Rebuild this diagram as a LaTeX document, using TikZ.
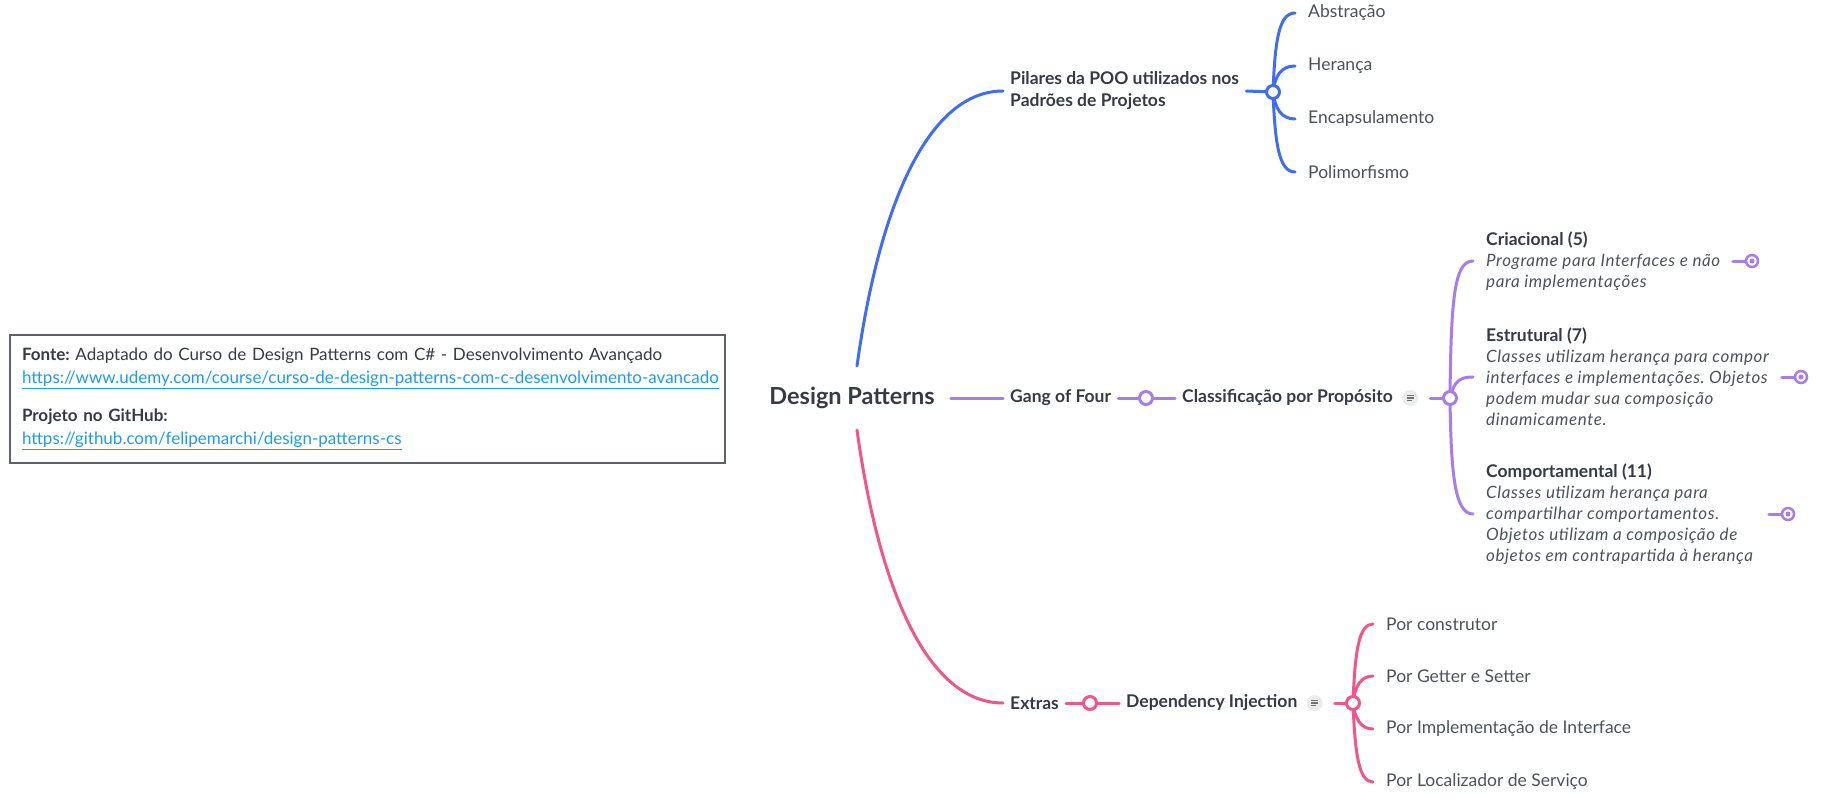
\documentclass[tikz,border=0pt]{standalone}
\usepackage{fontspec}
\setmainfont{Lato}
\usetikzlibrary{positioning}

\definecolor{pilarblue}{HTML}{3F6DF3}
\definecolor{gofpurple}{HTML}{A77CEE}
\definecolor{extpink}{HTML}{F2558A}
\definecolor{inktext}{HTML}{353B44}
\definecolor{leaftext}{HTML}{4D525A}
\definecolor{boxline}{HTML}{5C636B}
\definecolor{linkblue}{HTML}{1A9BF5}
\definecolor{iconfill}{HTML}{EBECEE}
\definecolor{iconline}{HTML}{6E7278}

\frenchspacing
\newcommand{\weblink}[1]{\textcolor{linkblue}{\underline{#1}}}
\newcommand{\notetext}[1]{{\fontsize{17}{21}\selectfont\addfontfeatures{LetterSpace=3.5}\itshape #1}}

\begin{document}
\begin{tikzpicture}[x=1pt,y=-1pt,
    branch/.style={line width=3pt, line cap=round},
    hub/.style={circle, draw, fill=white, line width=3pt, inner sep=0pt, minimum size=13pt},
    marker/.style={circle, draw=#1, fill=white, line width=2.5pt, inner sep=0pt, minimum size=12pt,
        path picture={\fill[#1] (path picture bounding box.center) circle (2.5pt);}},
    noteicon/.style={circle, fill=iconfill, inner sep=0pt, minimum size=16pt,
        path picture={\foreach \dy/\len in {2.5/7,0/7,-2.5/5}
            \draw[iconline, line width=1.1pt] ([xshift=-3.5pt,yshift=\dy pt]path picture bounding box.center) -- ++(\len,0);}},
    topic/.style={font=\bfseries\fontsize{17.5}{22}\selectfont, text=inktext, inner xsep=7pt, inner ysep=2pt, align=left, anchor=west},
    leaf/.style={font=\fontsize{17.5}{21}\selectfont, text=leaftext, anchor=west, inner xsep=13pt, inner ysep=2pt},
    catnode/.style={font=\fontsize{17.5}{21}\selectfont, text=leaftext, anchor=west, inner xsep=13pt, inner ysep=2pt, align=left},
    infobox/.style={draw=boxline, line width=2pt, anchor=north west, text width=691pt, inner xsep=12pt, inner ysep=13pt,
        font=\fontsize{17}{23}\selectfont, text=inktext, align=left}
    ]
    \useasboundingbox (0,0) rectangle (1824,800);

    % Source box
    \node[infobox] (fonte) at (9,334) {\textbf{Fonte:} Adaptado do Curso de Design Patterns com C\# - Desenvolvimento Avançado\\
        \weblink{https://www.udemy.com/course/curso-de-design-patterns-com-c-desenvolvimento-avancado}\\[15pt]
        \textbf{Projeto no GitHub:}\\
        \weblink{https://github.com/felipemarchi/design-patterns-cs}};

    % Root
    \node[topic, anchor=center, font=\bfseries\fontsize{23.5}{27}\selectfont, inner xsep=16pt, inner ysep=21pt] (dp) at (852,398) {Design Patterns};

    % Blue branch
    \node[topic] (pil) at (1003,91) {Pilares da POO utilizados nos\\Padrões de Projetos};
    \coordinate (pilhub) at (1273,92);
    \node[leaf] (abs) at (1295,13) {Abstração};
    \node[leaf] (her) at (1295,66) {Herança};
    \node[leaf] (enc) at (1295,119) {Encapsulamento};
    \node[leaf] (pol) at (1295,172) {Polimorfismo};
    \draw[branch, pilarblue] ([xshift=5pt]dp.north) .. controls (880,200) and (930,91) .. (pil.west);
    \draw[branch, pilarblue] (pil.east) -- (pilhub);
    \draw[branch, pilarblue] (pilhub) .. controls (1275,40) and (1279,13) .. (abs.west);
    \draw[branch, pilarblue] (pilhub) .. controls (1275,76) and (1281,66) .. (her.west);
    \draw[branch, pilarblue] (pilhub) .. controls (1275,108) and (1281,119) .. (enc.west);
    \draw[branch, pilarblue] (pilhub) .. controls (1275,144) and (1279,172) .. (pol.west);
    \node[hub, draw=pilarblue] at (pilhub) {};

    % Purple branch
    \node[topic] (gof) at (1003,398) {Gang of Four};
    \coordinate (gofhub) at (1146,398);
    \node[topic] (cls) at (1175,398) {Classificação por Propósito};
    \node[noteicon, right=2pt of cls] (clsnote) {};
    \coordinate (clshub) at (1450,398);
    \node[catnode] (cri) at (1473,261) {\textbf{\textcolor{inktext}{Criacional (5)}}\\
        \notetext{Programe para Interfaces e não}\\
        \notetext{para implementações}};
    \node[catnode] (est) at (1473,377) {\textbf{\textcolor{inktext}{Estrutural (7)}}\\
        \notetext{Classes utilizam herança para compor}\\
        \notetext{interfaces e implementações. Objetos}\\
        \notetext{podem mudar sua composição}\\
        \notetext{dinamicamente.}};
    \node[catnode] (com) at (1473,514) {\textbf{\textcolor{inktext}{Comportamental (11)}}\\
        \notetext{Classes utilizam herança para}\\
        \notetext{compartilhar comportamentos.}\\
        \notetext{Objetos utilizam a composição de}\\
        \notetext{objetos em contrapartida à herança}};
    \draw[branch, gofpurple] (dp.east) -- (gof.west);
    \draw[branch, gofpurple] (gof.east) -- (gofhub) -- (cls.west);
    \draw[branch, gofpurple] (clsnote.east) ++(12,0) -- (clshub);
    \draw[branch, gofpurple] (clshub) .. controls (1451,300) and (1454,261) .. (cri.west);
    \draw[branch, gofpurple] (clshub) .. controls (1454,381) and (1460,377) .. (est.west);
    \draw[branch, gofpurple] (clshub) .. controls (1451,470) and (1454,514) .. (com.west);
    \node[hub, draw=gofpurple] at (gofhub) {};
    \node[hub, draw=gofpurple] at (clshub) {};

    % collapsed markers
    \node[marker=gofpurple] (crimark) at (1752,261) {};
    \node[marker=gofpurple] (estmark) at (1801,377) {};
    \node[marker=gofpurple] (commark) at (1788,514) {};
    \draw[branch, gofpurple] (crimark.west) -- ++(-12,0);
    \draw[branch, gofpurple] (estmark.west) -- ++(-12,0);
    \draw[branch, gofpurple] (commark.west) -- ++(-12,0);

    % Pink branch
    \node[topic] (ext) at (1003,703) {Extras};
    \coordinate (exthub) at (1090,703);
    \node[topic] (dij) at (1119,703) {Dependency Injection};
    \node[noteicon, right=2pt of dij] (dijnote) {};
    \coordinate (dijhub) at (1353,703);
    \node[leaf] (ctor) at (1373,624) {Por construtor};
    \node[leaf] (gset) at (1373,676) {Por Getter e Setter};
    \node[leaf] (impl) at (1373,729) {Por Implementação de Interface};
    \node[leaf] (loc) at (1373,782) {Por Localizador de Serviço};
    \draw[branch, extpink] ([xshift=5pt]dp.south) .. controls (880,596) and (930,703) .. (ext.west);
    \draw[branch, extpink] (ext.east) -- (exthub) -- (dij.west);
    \draw[branch, extpink] (dijnote.east) ++(12,0) -- (dijhub);
    \draw[branch, extpink] (dijhub) .. controls (1355,650) and (1359,624) .. (ctor.west);
    \draw[branch, extpink] (dijhub) .. controls (1355,686) and (1361,676) .. (gset.west);
    \draw[branch, extpink] (dijhub) .. controls (1355,719) and (1361,729) .. (impl.west);
    \draw[branch, extpink] (dijhub) .. controls (1355,755) and (1359,782) .. (loc.west);
    \node[hub, draw=extpink] at (exthub) {};
    \node[hub, draw=extpink] at (dijhub) {};

\end{tikzpicture}
\end{document}
